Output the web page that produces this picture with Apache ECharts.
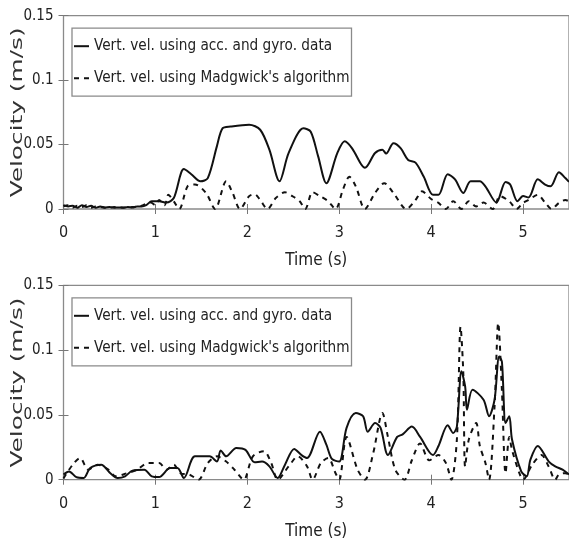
<!DOCTYPE html>
<html>
<head>
<meta charset="utf-8">
<script src="https://cdn.jsdelivr.net/npm/echarts@6/dist/echarts.min.js"></script>
<style>html,body{margin:0;padding:0;background:#fff}#c{width:569px;height:546px}</style>
</head>
<body>
<div id="c"></div>
<script>
var seriesNames = ["Vert. vel. using acc. and gyro. data", "Vert. vel. using Madgwick's algorithm"];
var xTickLabels = ["0", "1", "2", "3", "4", "5"];
var yTickLabels = ["0", "0.05", "0.1", "0.15"];
var xTitle = "Time (s)";
var yTitle = "Velocity (m/s)";

// Top panel, solid (acc + gyro)
var topSolidT = [0,0.05,0.1,0.15,0.2,0.25,0.3,0.35,0.4,0.45,0.5,0.55,0.6,0.65,0.7,0.75,0.8,0.85,0.9,0.96,1.04,1.12,1.2,1.31,1.39,1.49,1.57,1.67,1.73,1.82,2.02,2.14,2.24,2.35,2.45,2.61,2.69,2.77,2.86,2.98,3.06,3.14,3.24,3.28,3.39,3.47,3.51,3.59,3.67,3.75,3.83,3.92,4.02,4.08,4.18,4.26,4.35,4.43,4.53,4.59,4.71,4.81,4.86,4.94,5.0,5.06,5.16,5.24,5.3,5.39,5.46,5.5];
var topSolidV = [0.003,0.002,0.0025,0.001,0.003,0.0015,0.0025,0.001,0.002,0.0012,0.0015,0.001,0.0012,0.001,0.0015,0.0012,0.002,0.002,0.003,0.006,0.006,0.005,0.0085,0.031,0.027,0.0215,0.024,0.049,0.0626,0.064,0.0654,0.0615,0.046,0.0215,0.0435,0.0626,0.06,0.041,0.02,0.0435,0.0525,0.047,0.0345,0.032,0.0435,0.046,0.043,0.051,0.047,0.038,0.036,0.025,0.011,0.011,0.027,0.023,0.0125,0.0215,0.0215,0.0176,0.005,0.021,0.019,0.006,0.01,0.009,0.023,0.019,0.0176,0.0285,0.024,0.021];
// Top panel, dashed (Madgwick)
var topDashT = [0,0.05,0.1,0.15,0.2,0.25,0.3,0.35,0.4,0.45,0.5,0.55,0.6,0.65,0.7,0.75,0.8,0.85,0.9,0.95,1.0,1.04,1.1,1.14,1.2,1.26,1.35,1.43,1.55,1.65,1.77,1.84,1.92,2.02,2.08,2.14,2.22,2.31,2.41,2.49,2.57,2.63,2.71,2.79,2.88,2.96,3.04,3.11,3.18,3.28,3.39,3.49,3.59,3.73,3.83,3.9,4.0,4.08,4.16,4.24,4.33,4.41,4.49,4.57,4.67,4.75,4.85,4.93,5.0,5.06,5.16,5.24,5.31,5.39,5.46,5.5];
var topDashV = [0.002,0.003,0.001,0.0025,0.0015,0.003,0.001,0.002,0.0015,0.001,0.001,0.0015,0.001,0.0012,0.001,0.0015,0.0018,0.0025,0.004,0.005,0.003,0.007,0.003,0.011,0.006,0,0.0176,0.019,0.0125,0,0.0215,0.0125,0,0.01,0.0115,0.007,0,0.0085,0.013,0.01,0.006,0,0.013,0.01,0.006,0,0.015,0.025,0.0176,0,0.0125,0.02,0.0125,0,0.007,0.0137,0.0078,0.0047,0,0.006,0,0.006,0.002,0.005,0,0.01,0.006,0,0.0047,0.007,0.011,0.005,0,0.0047,0.007,0.006];

// Bottom panel, solid (acc + gyro)
var botSolidT = [0,0.06,0.14,0.22,0.29,0.41,0.51,0.59,0.67,0.75,0.88,0.96,1.04,1.16,1.24,1.31,1.43,1.59,1.67,1.71,1.77,1.88,1.98,2.08,2.16,2.24,2.33,2.41,2.51,2.59,2.65,2.79,2.86,2.92,3.0,3.08,3.18,3.26,3.31,3.39,3.45,3.53,3.63,3.69,3.79,3.88,4.02,4.08,4.18,4.24,4.28,4.33,4.37,4.39,4.45,4.57,4.63,4.69,4.74,4.77,4.81,4.85,4.88,4.98,5.04,5.08,5.16,5.28,5.35,5.43,5.5];
var botSolidV = [0.004,0.0064,0.002,0.0013,0.009,0.0116,0.005,0.0013,0.0026,0.007,0.0077,0.0026,0.002,0.009,0.009,0.0013,0.018,0.018,0.014,0.0226,0.018,0.0244,0.023,0.0134,0.014,0.0103,0.0013,0.0116,0.0237,0.019,0.0167,0.037,0.027,0.016,0.014,0.04,0.0514,0.049,0.037,0.0437,0.04,0.019,0.033,0.035,0.041,0.033,0.019,0.026,0.042,0.036,0.041,0.0836,0.072,0.054,0.0694,0.0617,0.049,0.0617,0.095,0.091,0.0437,0.049,0.031,0.0064,0.0026,0.0154,0.026,0.014,0.0103,0.0077,0.004];
// Bottom panel, dashed (Madgwick)
var botDashT = [0,0.1,0.18,0.27,0.37,0.49,0.57,0.69,0.8,0.92,1.04,1.12,1.2,1.27,1.37,1.47,1.57,1.67,1.77,1.86,1.96,2.06,2.18,2.26,2.33,2.45,2.55,2.65,2.71,2.8,2.88,2.96,3.0,3.08,3.2,3.28,3.37,3.47,3.53,3.61,3.71,3.79,3.88,3.98,4.08,4.16,4.22,4.28,4.32,4.35,4.37,4.41,4.49,4.53,4.59,4.63,4.69,4.73,4.77,4.81,4.85,4.88,4.96,5.0,5.1,5.2,5.28,5.35,5.39,5.46,5.5];
var botDashV = [0.001,0.0116,0.0167,0.0077,0.0116,0.0077,0.0026,0.005,0.0077,0.0129,0.0129,0.0077,0.0116,0.005,0.0039,0,0.0129,0.018,0.014,0.0077,0,0.018,0.022,0.0129,0,0.0103,0.018,0.0103,0,0.0129,0.0167,0.005,0,0.033,0.0077,0,0.0206,0.0514,0.033,0.0077,0,0.015,0.028,0.015,0.019,0.013,0,0.031,0.118,0.082,0.01,0.031,0.0437,0.026,0.013,0,0.0566,0.121,0.069,0.005,0.033,0.023,0.005,0,0.0116,0.019,0.01,0,0.004,0.005,0.004];

function pairs(t, v) { return t.map(function (x, i) { return [x, v[i]]; }); }

var tickFont = "'DejaVu Sans Condensed',sans-serif";
var grids = [
  { left: 63.5, top: 15.7, width: 508.75, height: 193.3 },
  { left: 63.5, top: 285.3, width: 508.75, height: 194.4 }
];
var xAxes = [], yAxes = [], legends = [], graphics = [];
grids.forEach(function (g, gi) {
  g.show = true; g.borderColor = '#8a8a8a'; g.borderWidth = 1.3; g.backgroundColor = 'transparent';
  xAxes.push({
    type: 'value', gridIndex: gi, min: 0, max: 5.5, interval: 1, position: 'bottom',
    name: xTitle, nameLocation: 'middle', nameGap: 43,
    nameTextStyle: { fontFamily: tickFont, fontSize: 17, color: '#222' },
    axisLine: { show: false }, splitLine: { show: false },
    axisTick: { inside: true, length: 5, lineStyle: { color: '#777' } },
    axisLabel: { margin: 16, fontFamily: tickFont, fontSize: 16, color: '#222', showMaxLabel: false,
      formatter: function (v) { var i = Math.round(v); return Math.abs(v - i) < 1e-6 && i < xTickLabels.length ? xTickLabels[i] : ''; } }
  });
  xAxes.push({
    type: 'value', gridIndex: gi, min: 0, max: 5.5, interval: 1, position: 'top',
    axisLine: { show: false }, splitLine: { show: false }, axisLabel: { show: false },
    axisTick: { inside: true, length: 5, lineStyle: { color: '#777' } }
  });
  yAxes.push({
    type: 'value', gridIndex: gi, min: 0, max: 0.15, interval: 0.05, position: 'left',
    axisLine: { show: false }, splitLine: { show: false },
    axisTick: { inside: true, length: 5, lineStyle: { color: '#777' } },
    axisLabel: { margin: 10, fontFamily: tickFont, fontSize: 15, color: '#222',
      formatter: function (v) { return yTickLabels[Math.round(v / 0.05)]; } }
  });
  yAxes.push({
    type: 'value', gridIndex: gi, min: 0, max: 0.15, interval: 0.05, position: 'right',
    axisLine: { show: false }, splitLine: { show: false }, axisLabel: { show: false },
    axisTick: { inside: true, length: 5, lineStyle: { color: '#777' } }
  });
  legends.push({
    orient: 'vertical', left: 72, top: g.top + 12.5, padding: [9, 2, 9, 1],
    itemWidth: 15, itemHeight: 14, itemGap: 14, align: 'left', itemTextGap: 1,
    borderColor: '#8a8a8a', borderWidth: 1.3, backgroundColor: '#fff',
    data: seriesNames, selectedMode: false,
    itemStyle: { color: 'transparent', borderColor: 'transparent', borderWidth: 0 },
    lineStyle: { color: '#111', width: 2 },
    textStyle: { fontFamily: tickFont, fontSize: 15.2, color: '#222', lineHeight: 18 }
  });
  graphics.push({
    type: 'text', x: 18, y: g.top + g.height / 2, rotation: Math.PI / 2, scaleX: 1.55,
    style: { text: yTitle, font: "16px 'DejaVu Sans', sans-serif", fill: '#333', align: 'center', verticalAlign: 'middle' }
  });
});

function lineSeries(name, data, gi, dashed) {
  return {
    name: name, type: 'line', xAxisIndex: gi * 2, yAxisIndex: gi * 2, data: data,
    showSymbol: false, symbol: 'none', smooth: 0.3, animation: false,
    lineStyle: { color: '#111', width: 2, type: dashed ? [5, 5] : 'solid' },
    itemStyle: { color: '#111' }
  };
}

var chart = echarts.init(document.getElementById('c'), null, { renderer: 'canvas' });
chart.setOption({
  animation: false,
  grid: grids,
  xAxis: xAxes,
  yAxis: yAxes,
  legend: legends,
  graphic: graphics,
  series: [
    lineSeries(seriesNames[0], pairs(topSolidT, topSolidV), 0, false),
    lineSeries(seriesNames[1], pairs(topDashT, topDashV), 0, true),
    lineSeries(seriesNames[0], pairs(botSolidT, botSolidV), 1, false),
    lineSeries(seriesNames[1], pairs(botDashT, botDashV), 1, true)
  ]
});
</script>
</body>
</html>
